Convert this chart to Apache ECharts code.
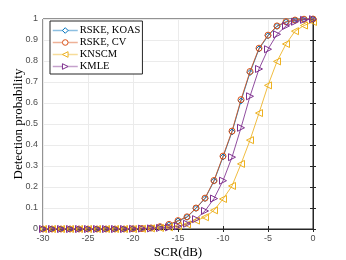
<!DOCTYPE html>
<html><head><meta charset="utf-8">
<script src="https://cdn.jsdelivr.net/npm/echarts@6/dist/echarts.min.js"></script>
<style>html,body{margin:0;padding:0;background:#fff}#c{width:346px;height:260px}</style>
</head><body><div id="c"></div>
<script>
const scr = [-30,-29,-28,-27,-26,-25,-24,-23,-22,-21,-20,-19,-18,-17,-16,-15,-14,-13,-12,-11,-10,-9,-8,-7,-6,-5,-4,-3,-2,-1,0];
const rskeKoas = [0,0,0,0,0,0,0,0,0,0,0.001,0.002,0.004,0.01,0.02,0.038,0.056,0.098,0.145,0.228,0.343,0.462,0.61,0.745,0.857,0.92,0.965,0.985,0.994,0.998,1];
const rskeCv = [0,0,0,0,0,0,0,0,0,0,0.001,0.002,0.005,0.011,0.022,0.04,0.058,0.1,0.147,0.231,0.347,0.466,0.616,0.75,0.861,0.923,0.967,0.987,0.995,0.999,1];
const knscm = [0,0,0,0,0,0,0,0,0,0,0,0.001,0.003,0.005,0.008,0.013,0.022,0.04,0.056,0.089,0.143,0.205,0.31,0.423,0.552,0.684,0.798,0.881,0.942,0.969,0.986];
const kmle = [0,0,0,0,0,0,0,0,0,0,0.001,0.002,0.003,0.005,0.008,0.013,0.025,0.047,0.086,0.145,0.23,0.342,0.482,0.632,0.762,0.856,0.927,0.967,0.987,0.996,0.999];
const names = ['RSKE, KOAS','RSKE, CV','KNSCM','KMLE'];
const colors = ['#0072BD','#D95319','#EDB120','#7E2F8E'];
const xTicks = [-30,-25,-20,-15,-10,-5,0];
const yTicks = [0,0.1,0.2,0.3,0.4,0.5,0.6,0.7,0.8,0.9,1];

const chart = echarts.init(document.getElementById('c'));
const pair = arr => scr.map((x,i)=>[x,arr[i]]);
function mk(name, data, color, symbol, rot, size){
  return {name, type:'line', data:pair(data), symbol, symbolRotate:rot, symbolSize:size,
    lineStyle:{color, width:1, opacity:0.85},
    itemStyle:{color:'rgba(255,255,255,0)', borderColor:color, borderWidth:1},
    z: 3};
}
const tickLbl = {color:'#4d4d4d', fontSize:9, fontFamily:'Liberation Sans, Arial, sans-serif'};
chart.setOption({
  animation:false,
  grid:{left:43, top:19, width:270, height:210, outerBoundsMode:'none', containLabel:false,
    show:true, borderColor:'#262626', borderWidth:1, backgroundColor:'#fff'},
  xAxis:[{type:'value', min:-30, max:0, interval:5, position:'bottom',
    name:'SCR(dB)', nameLocation:'middle', nameGap:17, nameMoveOverlap:false,
    nameTextStyle:{fontFamily:'Liberation Serif, Times New Roman, serif', fontSize:13, color:'#000'},
    axisLine:{show:true, lineStyle:{color:'#262626'}},
    axisTick:{show:true, inside:true, length:3, lineStyle:{color:'#262626'}},
    axisLabel:Object.assign({margin:5, formatter:v=>xTicks.includes(v)?String(v):''}, tickLbl),
    splitLine:{show:true, lineStyle:{color:'#ebebeb', width:1}}},
   {type:'value', min:-30, max:0, interval:5, position:'top',
    axisLine:{show:true, lineStyle:{color:'#262626'}},
    axisTick:{show:true, inside:true, length:3, lineStyle:{color:'#262626'}},
    axisLabel:{show:false}, splitLine:{show:false}}],
  yAxis:[{type:'value', min:0, max:1, interval:0.1, position:'left',
    name:'Detection probability', nameLocation:'middle', nameGap:18, nameMoveOverlap:false,
    nameTextStyle:{fontFamily:'Liberation Serif, Times New Roman, serif', fontSize:13, color:'#000'},
    axisLine:{show:true, lineStyle:{color:'#262626'}},
    axisTick:{show:true, inside:true, length:3, lineStyle:{color:'#262626'}},
    axisLabel:Object.assign({margin:5, formatter:v=>{const r=Math.round(v*10)/10; return yTicks.includes(r)?String(r):'';}}, tickLbl),
    splitLine:{show:true, lineStyle:{color:'#ebebeb', width:1}}},
   {type:'value', min:0, max:1, interval:0.1, position:'right',
    axisLine:{show:true, lineStyle:{color:'#262626'}},
    axisTick:{show:true, inside:true, length:3, lineStyle:{color:'#262626'}},
    axisLabel:{show:false}, splitLine:{show:false}}],
  legend:{orient:'vertical', left:50, top:21,
    data:names.map((n,i)=>({name:n, itemStyle:{color:'#fff', borderColor:colors[i], borderWidth:1}, lineStyle:{color:colors[i], opacity:0.45, width:1.5}})),
    backgroundColor:'#fff', borderColor:'#262626', borderWidth:1, padding:[4,2,2,2],
    itemWidth:25, itemHeight:7, itemGap:1,
    textStyle:{fontFamily:'Liberation Serif, Times New Roman, serif', fontSize:10.5, color:'#000', padding:[0,0,0,-3], lineHeight:11}},
  series:[
    mk(names[0], rskeKoas, colors[0], 'diamond', 0, 6),
    mk(names[1], rskeCv, colors[1], 'circle', 0, 6),
    mk(names[2], knscm, colors[2], 'triangle', 90, 7),
    mk(names[3], kmle, colors[3], 'triangle', -90, 7)
  ]
});
</script></body></html>
